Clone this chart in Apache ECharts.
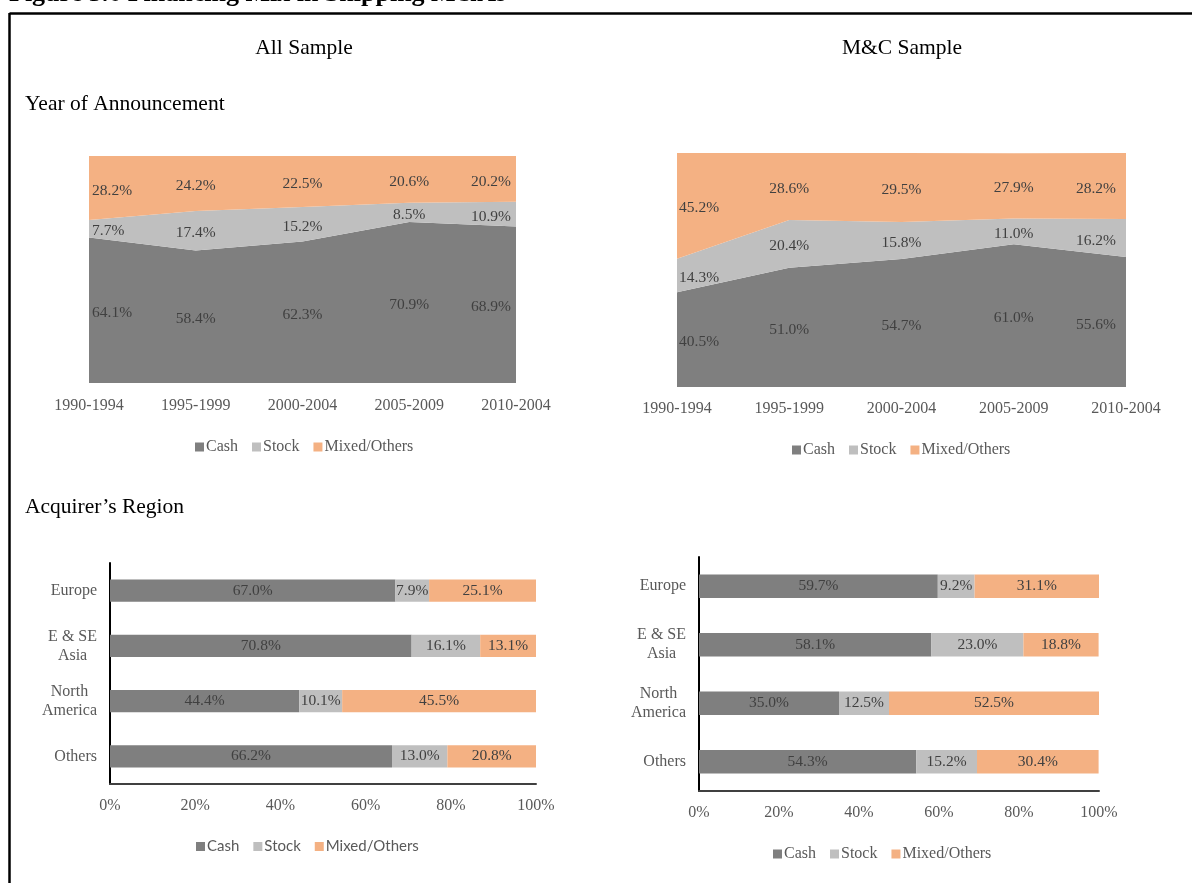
<!DOCTYPE html>
<html>
<head>
<meta charset="utf-8">
<script src="https://cdn.jsdelivr.net/npm/echarts@6/dist/echarts.min.js"></script>
<style>
  html, body { margin: 0; padding: 0; background: #fff; }
  #chart { width: 1192px; height: 883px; }
</style>
</head>
<body>
<div id="chart"></div>
<script>
// data
const years = ['1990-1994', '1995-1999', '2000-2004', '2005-2009', '2010-2004'];
const allCash = [64.1, 58.4, 62.3, 70.9, 68.9];
const allStock = [7.7, 17.4, 15.2, 8.5, 10.9];
const allMixed = [28.2, 24.2, 22.5, 20.6, 20.2];
const mcCash = [40.5, 51.0, 54.7, 61.0, 55.6];
const mcStock = [14.3, 20.4, 15.8, 11.0, 16.2];
const mcMixed = [45.2, 28.6, 29.5, 27.9, 28.2];

const regions = ['Europe', 'E & SE\nAsia', 'North\nAmerica', 'Others'];
const regAllCash = [67.0, 70.8, 44.4, 66.2];
const regAllStock = [7.9, 16.1, 10.1, 13.0];
const regAllMixed = [25.1, 13.1, 45.5, 20.8];
const regMcCash = [59.7, 58.1, 35.0, 54.3];
const regMcStock = [9.2, 23.0, 12.5, 15.2];
const regMcMixed = [31.1, 18.8, 52.5, 30.4];

const seriesNames = ['Cash', 'Stock', 'Mixed/Others'];
const colors = ['#7f7f7f', '#bfbfbf', '#f4b183'];

const serif = '"Liberation Serif", "Times New Roman", serif';
const sans = 'Lato, "Noto Sans", sans-serif';
const labelColor = '#404040';
const axisColor = '#595959';

// grids (page pixels)
const grids = [
  { left: 89, top: 156, width: 427, height: 227 },
  { left: 677, top: 153, width: 449, height: 234 },
  { left: 110, top: 563, width: 426, height: 221 },
  { left: 699, top: 557, width: 400, height: 234 }
];

let chart = echarts.init(document.getElementById('chart'));

function pct(p) {
  return Number(p.value).toFixed(1) + '%';
}

// stacked area, labels moved into the middle of each band
function areaSeries(name, values, color, idx, startShift, endShift) {
  let gh = grids[idx].height;
  let last = values.length - 1;
  return {
    name: name,
    type: 'line',
    stack: 'area' + idx,
    xAxisIndex: idx,
    yAxisIndex: idx,
    symbol: 'circle',
    symbolSize: 0.1,
    lineStyle: { width: 0, opacity: 0 },
    itemStyle: { color: color },
    areaStyle: { color: color, opacity: 1 },
    emphasis: { disabled: true },
    label: {
      show: true,
      position: 'inside',
      formatter: pct,
      color: labelColor,
      fontSize: 15.5,
      fontFamily: serif
    },
    data: values.map(function (v, i) {
      let align = i === 0 ? 'left' : (i === last ? 'right' : 'center');
      let dx = i === 0 ? startShift : (i === last ? endShift : 0);
      return { value: v, label: { align: align, offset: [dx, v / 100 * gh / 2 + 2.5] } };
    })
  };
}

function barSeries(name, values, color, idx) {
  return {
    name: name,
    type: 'bar',
    stack: 'bar' + idx,
    xAxisIndex: idx,
    yAxisIndex: idx,
    barWidth: '40%',
    itemStyle: { color: color },
    emphasis: { disabled: true },
    label: {
      show: true,
      position: 'inside',
      formatter: pct,
      color: labelColor,
      fontSize: 15.5,
      fontFamily: serif
    },
    data: values
  };
}

function catAxisArea(idx, margin) {
  return {
    type: 'category',
    gridIndex: idx,
    data: years,
    boundaryGap: false,
    axisLine: { show: false },
    axisTick: { show: false },
    axisLabel: { color: axisColor, fontSize: 16, fontFamily: serif, margin: margin },
    splitLine: { show: false }
  };
}

function valAxisBar(idx) {
  return {
    type: 'value',
    gridIndex: idx,
    min: 0,
    max: 100,
    interval: 20,
    axisLine: { show: true, lineStyle: { color: '#404040', width: 2 } },
    axisTick: { show: false },
    axisLabel: { color: axisColor, fontSize: 16, fontFamily: serif, margin: 14, formatter: '{value}%' },
    splitLine: { show: false }
  };
}

function catAxisBar(idx) {
  return {
    type: 'category',
    gridIndex: idx,
    data: regions,
    inverse: true,
    axisLine: { show: true, lineStyle: { color: '#000', width: 2 } },
    axisTick: { show: false },
    axisLabel: {
      color: axisColor,
      fontSize: 16,
      fontFamily: serif,
      margin: 13,
      align: 'right',
      lineHeight: 19,
      formatter: function (v) {
        return v.split('\n').map(function (s) { return '{c|' + s + '}'; }).join('\n');
      },
      rich: { c: { align: 'center', color: axisColor, fontSize: 16, fontFamily: serif, lineHeight: 19 } }
    }
  };
}

function legendAt(left, top, font, size) {
  return {
    data: seriesNames,
    left: left,
    top: top,
    padding: 0,
    icon: 'rect',
    itemWidth: 9,
    itemHeight: 9,
    itemGap: 14,
    selectedMode: false,
    textStyle: { color: axisColor, fontSize: size, fontFamily: font, padding: [0, 0, 0, -3] }
  };
}

function heading(text, x, y, align) {
  return {
    type: 'text',
    x: x,
    y: y,
    style: { text: text, font: '21.5px ' + serif, fill: '#000', align: align, verticalAlign: 'middle' }
  };
}

chart.setOption({
  animation: false,
  backgroundColor: '#fff',
  grid: grids,
  xAxis: [catAxisArea(0, 15), catAxisArea(1, 14), valAxisBar(2), valAxisBar(3)],
  yAxis: [
    { type: 'value', gridIndex: 0, min: 0, max: 100, show: false },
    { type: 'value', gridIndex: 1, min: 0, max: 100, show: false },
    catAxisBar(2),
    catAxisBar(3)
  ],
  legend: [
    legendAt(195, 439, serif, 16),
    legendAt(792, 442, serif, 16),
    legendAt(196, 839, sans, 15),
    legendAt(773, 846, serif, 16)
  ],
  series: [
    areaSeries('Cash', allCash, colors[0], 0, 3, -5),
    areaSeries('Stock', allStock, colors[1], 0, 3, -5),
    areaSeries('Mixed/Others', allMixed, colors[2], 0, 3, -5),
    areaSeries('Cash', mcCash, colors[0], 1, 2, -10),
    areaSeries('Stock', mcStock, colors[1], 1, 2, -10),
    areaSeries('Mixed/Others', mcMixed, colors[2], 1, 2, -10),
    barSeries('Cash', regAllCash, colors[0], 2),
    barSeries('Stock', regAllStock, colors[1], 2),
    barSeries('Mixed/Others', regAllMixed, colors[2], 2),
    barSeries('Cash', regMcCash, colors[0], 3),
    barSeries('Stock', regMcStock, colors[1], 3),
    barSeries('Mixed/Others', regMcMixed, colors[2], 3)
  ],
  graphic: [
    {
      type: 'text',
      x: 9,
      y: 7,
      style: { text: 'Figure 5.6 Financing Mix in Shipping M&As', font: 'bold 26px ' + serif, fill: '#000', align: 'left', verticalAlign: 'bottom' }
    },
    { type: 'line', shape: { x1: 9.5, y1: 13.5, x2: 1192, y2: 13.5 }, style: { stroke: '#000', lineWidth: 2.5 } },
    { type: 'line', shape: { x1: 9.5, y1: 13, x2: 9.5, y2: 883 }, style: { stroke: '#000', lineWidth: 2.5 } },
    heading('All Sample', 304, 48, 'center'),
    heading('M&C Sample', 902, 48, 'center'),
    heading('Year of Announcement', 25, 104, 'left'),
    heading('Acquirer\u2019s Region', 25, 507, 'left')
  ]
});
</script>
</body>
</html>
